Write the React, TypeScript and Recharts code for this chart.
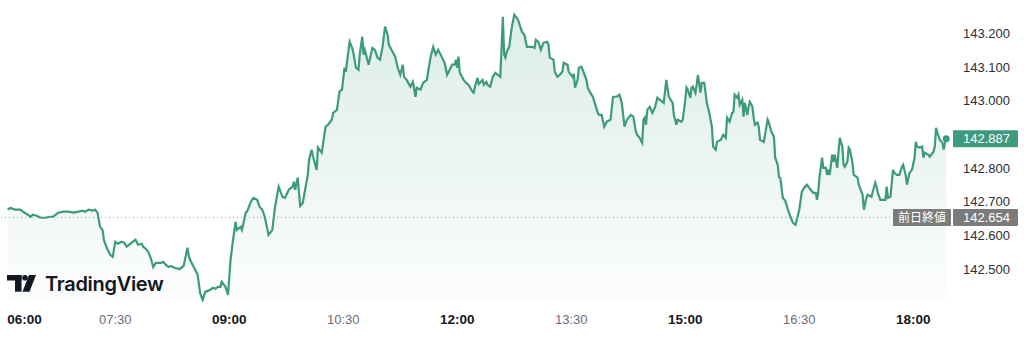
import React from 'react';
import { ComposedChart, Area, XAxis, YAxis, ReferenceLine, ReferenceDot } from 'recharts';

// minutes elapsed since 06:00
const minutesFrom0600 = [
  5, 7, 11, 15, 17, 21, 23, 25, 28, 31,
  35, 38, 41, 45, 49, 53, 57, 61, 64, 66,
  69, 72, 74, 76, 77, 78, 80, 81, 82, 84,
  86, 88, 90, 92, 95, 97, 99, 102, 104, 106,
  108, 111, 112, 114, 116, 118, 120, 122, 126, 128,
  130, 132, 134, 137, 141, 144, 147, 148, 149, 152,
  155, 157, 159, 161, 163, 165, 167, 169, 171, 173,
  174, 177, 179, 181, 183, 185, 186, 189, 190, 193,
  194, 197, 199, 202, 204, 206, 208, 211, 214, 216,
  219, 222, 224, 227, 230, 231, 232, 234, 236, 238,
  242, 243, 245, 246, 249, 250, 253, 256, 258, 261,
  262, 265, 267, 269, 271, 272, 275, 277, 278, 280,
  282, 283, 285, 286, 287, 290, 293, 295, 297, 299,
  301, 303, 305, 306, 309, 311, 313, 315, 317, 318,
  320, 323, 325, 327, 328, 331, 333, 336, 337, 339,
  341, 343, 345, 348, 350, 352, 354, 356, 358, 359,
  360, 361, 362, 365, 367, 369, 372, 373, 374, 376,
  377, 380, 381, 383, 384, 386, 388, 390, 392, 394,
  396, 397, 398, 399, 401, 403, 405, 407, 408, 410,
  411, 413, 415, 419, 421, 422, 424, 426, 428, 431,
  432, 433, 436, 437, 439, 441, 443, 444, 447, 448,
  451, 452, 453, 455, 456, 458, 459, 462, 463, 465,
  467, 469, 471, 472, 474, 476, 478, 481, 483, 486,
  488, 490, 492, 494, 497, 499, 501, 502, 504, 506,
  507, 508, 509, 510, 512, 514, 516, 517, 518, 520,
  523, 524, 525, 527, 530, 531, 533, 534, 537, 538,
  540, 541, 542, 544, 545, 546, 548, 549, 550, 552,
  553, 555, 556, 557, 559, 561, 562, 564, 565, 568,
  570, 572, 573, 575, 577, 578, 579, 581, 582, 583,
  585, 586, 587, 589, 590, 591, 593, 594, 595, 597,
  598, 599, 602, 605, 606, 608, 610, 611, 613, 614,
  615, 617, 619, 621, 623, 625, 627, 628, 630, 632,
  634, 636, 639, 641, 643, 644, 645, 646, 648, 649,
  651, 652, 653, 654, 656, 657, 658, 660, 661, 662,
  664, 665, 666, 668, 669, 670, 672, 673, 676, 677,
  680, 681, 683, 684, 687, 688, 690, 691, 692, 694,
  696, 698, 699, 700, 702, 704, 705, 707, 709, 711,
  712, 714, 715, 717, 719, 721, 722, 723, 725, 727,
  728, 729, 732, 733, 736, 737, 738, 739, 741, 743,
  744, 745, 746,
];

const prices = [
  142.677, 142.682, 142.677, 142.677, 142.671, 142.662, 142.656, 142.662, 142.659, 142.653,
  142.653, 142.656, 142.656, 142.668, 142.671, 142.671, 142.668, 142.671, 142.674, 142.671,
  142.677, 142.674, 142.677, 142.668, 142.647, 142.626, 142.617, 142.588, 142.576, 142.558,
  142.543, 142.537, 142.582, 142.576, 142.582, 142.579, 142.567, 142.576, 142.582, 142.588,
  142.573, 142.576, 142.567, 142.561, 142.552, 142.534, 142.507, 142.519, 142.519, 142.522,
  142.513, 142.507, 142.510, 142.504, 142.501, 142.510, 142.564, 142.540, 142.528, 142.507,
  142.484, 142.430, 142.409, 142.433, 142.436, 142.439, 142.445, 142.442, 142.448, 142.448,
  142.463, 142.448, 142.424, 142.528, 142.588, 142.641, 142.617, 142.626, 142.617, 142.668,
  142.671, 142.700, 142.712, 142.706, 142.685, 142.677, 142.656, 142.602, 142.617, 142.682,
  142.745, 142.715, 142.712, 142.736, 142.745, 142.760, 142.736, 142.772, 142.688, 142.697,
  142.780, 142.825, 142.855, 142.837, 142.795, 142.861, 142.846, 142.923, 142.929, 142.944,
  142.964, 142.973, 143.027, 143.033, 143.098, 143.086, 143.175, 143.157, 143.142, 143.098,
  143.092, 143.137, 143.190, 143.137, 143.151, 143.107, 143.157, 143.151, 143.128, 143.122,
  143.160, 143.220, 143.196, 143.166, 143.145, 143.131, 143.098, 143.077, 143.107, 143.071,
  143.062, 143.042, 143.056, 143.012, 143.039, 143.033, 143.053, 143.062, 143.086, 143.131,
  143.160, 143.137, 143.151, 143.128, 143.113, 143.077, 143.092, 143.107, 143.107, 143.122,
  143.098, 143.131, 143.083, 143.062, 143.053, 143.047, 143.027, 143.024, 143.042, 143.068,
  143.050, 143.062, 143.047, 143.056, 143.047, 143.042, 143.071, 143.083, 143.077, 143.071,
  143.249, 143.137, 143.128, 143.145, 143.160, 143.217, 143.255, 143.246, 143.240, 143.217,
  143.205, 143.196, 143.160, 143.160, 143.157, 143.181, 143.175, 143.151, 143.172, 143.175,
  143.166, 143.128, 143.122, 143.086, 143.071, 143.077, 143.086, 143.113, 143.107, 143.086,
  143.071, 143.080, 143.039, 143.062, 143.098, 143.101, 143.092, 143.062, 143.039, 143.024,
  143.012, 142.988, 142.964, 142.958, 142.958, 142.923, 142.938, 142.944, 143.012, 143.012,
  143.018, 142.991, 142.923, 142.944, 142.958, 142.953, 142.908, 142.899, 142.890, 142.875,
  142.944, 142.950, 142.929, 142.973, 142.982, 142.964, 142.979, 142.994, 143.009, 143.003,
  142.994, 143.027, 143.062, 143.012, 142.994, 142.958, 142.929, 142.944, 142.938, 142.944,
  143.003, 143.039, 143.033, 143.009, 143.039, 143.042, 143.024, 143.047, 143.077, 143.024,
  143.053, 143.053, 143.024, 142.994, 142.964, 142.923, 142.864, 142.855, 142.878, 142.884,
  142.899, 142.890, 142.950, 142.938, 142.964, 142.967, 143.018, 143.009, 143.018, 142.988,
  143.003, 142.953, 142.994, 142.958, 142.982, 142.997, 142.982, 142.950, 142.929, 142.935,
  142.923, 142.884, 142.878, 142.944, 142.935, 142.908, 142.893, 142.831, 142.810, 142.774,
  142.772, 142.712, 142.703, 142.677, 142.656, 142.638, 142.632, 142.647, 142.677, 142.730,
  142.742, 142.751, 142.736, 142.727, 142.727, 142.706, 142.730, 142.774, 142.831, 142.801,
  142.801, 142.780, 142.795, 142.780, 142.840, 142.819, 142.840, 142.801, 142.849, 142.890,
  142.864, 142.810, 142.804, 142.819, 142.861, 142.855, 142.816, 142.780, 142.772, 142.751,
  142.721, 142.677, 142.712, 142.721, 142.715, 142.730, 142.757, 142.745, 142.727, 142.706,
  142.706, 142.706, 142.745, 142.712, 142.715, 142.795, 142.786, 142.780, 142.780, 142.804,
  142.810, 142.780, 142.751, 142.786, 142.795, 142.831, 142.878, 142.864, 142.861, 142.864,
  142.831, 142.846, 142.840, 142.834, 142.849, 142.864, 142.920, 142.905, 142.884, 142.875,
  142.855, 142.875, 142.887,
];

const previousClose = 142.654;
const previousCloseLabel = '前日終値';
const timeTicks = [0, 90, 180, 270, 360, 450, 540, 630, 720];
const majorTimeTicks = [0, 180, 360, 540, 720];
const priceTicks = [142.5, 142.6, 142.7, 142.8, 143.0, 143.1, 143.2];
const timeDomain = [-1, 749];
const priceDomain = [142.403, 143.299];

const data = minutesFrom0600.map((t, i) => ({ t, p: prices[i] }));
const lastT = minutesFrom0600[minutesFrom0600.length - 1];
const lastP = prices[prices.length - 1];

const GREEN = '#3d9a7e';
const GREY_BOX = '#7b7b7b';
const FONT = '"Liberation Sans", Arial, Helvetica, sans-serif';

function fmtTime(m: number) {
  const h = 6 + Math.floor(m / 60);
  const mm = m % 60;
  return `${String(h).padStart(2, '0')}:${String(mm).padStart(2, '0')}`;
}

const TimeTick = (props: any) => {
  const { x, y, payload } = props;
  const v = payload.value;
  const major = majorTimeTicks.includes(v);
  const first = v === timeTicks[0];
  return (
    <text
      x={first ? x + 6 : x}
      y={y + 14}
      textAnchor={first ? 'start' : 'middle'}
      fontSize={major ? 13.5 : 13}
      fontWeight={major ? 700 : 400}
      fill={major ? '#131722' : '#6a6d78'}
      fontFamily={FONT}
    >
      {fmtTime(v)}
    </text>
  );
};

const PriceTick = (props: any) => {
  const { x, y, payload } = props;
  return (
    <text x={x + 5} y={y + 4.5} textAnchor="start" fontSize={13} fill="#2a2e39" fontFamily={FONT}>
      {Number(payload.value).toFixed(3)}
    </text>
  );
};

const PrevCloseLabel = (props: any) => {
  const { viewBox } = props;
  const right = viewBox.x + viewBox.width;
  const y = viewBox.y;
  return (
    <g>
      <rect x={right - 57} y={y - 8.5} width={58} height={17} fill={GREY_BOX} rx={1} />
      <text x={right - 28} y={y + 4.5} textAnchor="middle" fontSize={12} fill="#ffffff" fontFamily='"Noto Sans CJK JP", sans-serif'>
        {previousCloseLabel}
      </text>
      <rect x={right + 3} y={y - 8.5} width={65} height={17} fill={GREY_BOX} rx={1} />
      <text x={right + 13} y={y + 4.5} textAnchor="start" fontSize={13} fill="#ffffff" fontFamily={FONT}>
        {previousClose.toFixed(3)}
      </text>
    </g>
  );
};

const LastLabel = (props: any) => {
  const { viewBox } = props;
  const right = viewBox.x + viewBox.width;
  const y = viewBox.y;
  return (
    <g>
      <rect x={right + 3} y={y - 8.5} width={65} height={17} fill={GREEN} rx={1} />
      <text x={right + 13} y={y + 4.5} textAnchor="start" fontSize={13} fill="#ffffff" fontFamily={FONT}>
        {lastP.toFixed(3)}
      </text>
    </g>
  );
};

export default function App() {
  return (
    <div style={{ position: 'absolute', left: 0, top: 0, width: 1024, height: 357, background: '#ffffff', overflow: 'hidden' }}>
      <ComposedChart width={1024} height={357} data={data} margin={{ top: 0, right: 0, bottom: 0, left: 0 }}>
        <defs>
          <linearGradient id="fillGrad" x1="0" y1="0" x2="0" y2="1">
            <stop offset="0%" stopColor={GREEN} stopOpacity={0.3} />
            <stop offset="100%" stopColor={GREEN} stopOpacity={0.03} />
          </linearGradient>
        </defs>
        <XAxis
          dataKey="t"
          type="number"
          domain={timeDomain}
          ticks={timeTicks}
          axisLine={false}
          tickLine={false}
          height={55}
          tick={<TimeTick />}
          interval={0}
          allowDataOverflow
        />
        <YAxis
          orientation="right"
          type="number"
          domain={priceDomain}
          ticks={priceTicks}
          axisLine={false}
          tickLine={false}
          width={74}
          tick={<PriceTick />}
          interval={0}
          allowDataOverflow
        />
        <ReferenceLine y={previousClose} stroke="#9598a1" strokeDasharray="1 3" strokeWidth={1} label={<PrevCloseLabel />} />
        <Area
          type="linear"
          dataKey="p"
          stroke={GREEN}
          strokeWidth={2.2}
          fill="url(#fillGrad)"
          isAnimationActive={false}
          dot={false}
          activeDot={false}
        />
        <ReferenceDot x={lastT} y={lastP} r={3.5} fill={GREEN} stroke="none" />
        <ReferenceLine y={lastP} stroke="none" label={<LastLabel />} />
      </ComposedChart>
      <svg width={1024} height={357} style={{ position: 'absolute', left: 0, top: 0, pointerEvents: 'none' }}>
        <g transform="translate(7,275)" fill="#131722">
          <rect x={0} y={0} width={14.5} height={5.5} />
          <rect x={8} y={0} width={6.5} height={16.7} />
          <circle cx={18} cy={2.8} r={2.8} />
          <polygon points="22,0 29,0 22.5,16.7 15.5,16.7" />
        </g>
        <text x={45} y={291} fontSize={20} fontWeight={600} fill="#131722" fontFamily="Inter, sans-serif" letterSpacing={-0.3}>
          TradingView
        </text>
      </svg>
    </div>
  );
}
